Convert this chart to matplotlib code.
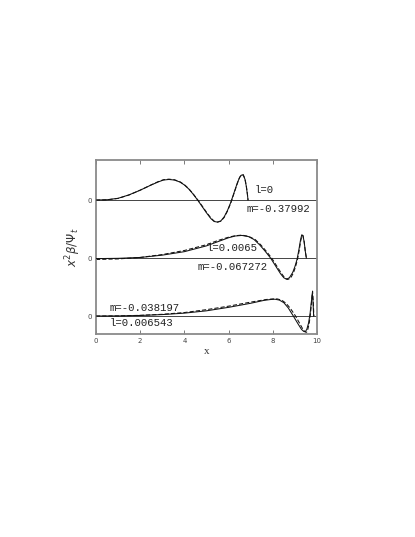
#!/usr/bin/env python3
"""Three stacked profiles x^2 beta / Psi_t versus x (solid and dashed)."""

import matplotlib
matplotlib.use("Agg")
import matplotlib.pyplot as plt

# ───────────── data ─────────────
# offsets of the three zero lines (upper, middle, lower)
OFFSETS = [0.0, -1.0, -2.0]

# upper curve: l=0, m=-0.37992
x1 = [0.0, 0.5, 1.0, 1.5, 2.0, 2.5, 2.8, 3.05, 3.3, 3.55, 3.8, 4.0, 4.2,
      4.4, 4.6, 4.8, 5.0, 5.2, 5.35, 5.5, 5.65, 5.8, 5.95, 6.1, 6.25, 6.4,
      6.5, 6.58, 6.66, 6.74, 6.8, 6.85, 6.88]
y1 = [0.0, 0.005, 0.03, 0.09, 0.17, 0.26, 0.31, 0.345, 0.355, 0.345, 0.31,
      0.26, 0.19, 0.10, 0.0, -0.11, -0.22, -0.32, -0.37, -0.38, -0.36,
      -0.29, -0.18, -0.04, 0.13, 0.30, 0.39, 0.43, 0.43, 0.36, 0.24, 0.10,
      0.0]
x1d = x1
y1d = [0.0, 0.004, 0.028, 0.088, 0.17, 0.262, 0.315, 0.35, 0.36, 0.35,
       0.315, 0.265, 0.195, 0.105, 0.005, -0.10, -0.21, -0.31, -0.365,
       -0.38, -0.365, -0.30, -0.19, -0.05, 0.12, 0.29, 0.39, 0.435, 0.44,
       0.37, 0.25, 0.11, 0.0]

# middle curve: l=0.0065, m=-0.067272
x2 = [0.0, 1.0, 2.0, 3.0, 4.0, 5.0, 5.5, 6.0, 6.3, 6.6, 6.9, 7.15, 7.4,
      7.65, 7.9, 8.15, 8.35, 8.5, 8.62, 8.75, 8.9, 9.0, 9.1, 9.18, 9.25,
      9.31, 9.36, 9.42, 9.47, 9.52]
y2 = [-0.01, -0.005, 0.01, 0.05, 0.11, 0.21, 0.28, 0.35, 0.38, 0.39, 0.37,
      0.32, 0.23, 0.12, 0.0, -0.15, -0.27, -0.34, -0.365, -0.34, -0.25,
      -0.15, -0.02, 0.14, 0.30, 0.40, 0.39, 0.28, 0.12, 0.0]
x2d = [0.0, 1.0, 2.0, 3.0, 4.0, 5.0, 5.5, 6.0, 6.3, 6.6, 6.9, 7.2, 7.45,
       7.7, 7.95, 8.2, 8.4, 8.55, 8.67, 8.8, 8.93, 9.03, 9.12, 9.2, 9.26,
       9.32, 9.37, 9.42, 9.47, 9.52]
y2d = [-0.025, -0.015, 0.01, 0.06, 0.13, 0.23, 0.30, 0.36, 0.385, 0.395,
       0.375, 0.32, 0.23, 0.12, 0.0, -0.15, -0.27, -0.345, -0.37, -0.35,
       -0.26, -0.15, -0.02, 0.14, 0.29, 0.39, 0.385, 0.28, 0.12, 0.0]

# lower curve: l=0.006543, m=-0.038197
x3 = [0.0, 1.0, 2.0, 3.0, 4.0, 5.0, 6.0, 7.0, 7.6, 7.9, 8.1, 8.3, 8.5,
      8.7, 8.93, 9.15, 9.3, 9.4, 9.47, 9.54, 9.62, 9.69, 9.75, 9.79, 9.82,
      9.85]
y3 = [0.0, 0.002, 0.01, 0.025, 0.05, 0.09, 0.15, 0.22, 0.27, 0.285, 0.29,
      0.275, 0.23, 0.14, 0.0, -0.14, -0.23, -0.265, -0.27, -0.23, -0.12,
      0.05, 0.26, 0.40, 0.25, 0.0]
x3d = [0.0, 1.0, 2.0, 3.0, 4.0, 5.0, 6.0, 7.0, 7.7, 8.0, 8.2, 8.4, 8.6,
       8.8, 9.03, 9.25, 9.38, 9.47, 9.53, 9.58, 9.65, 9.71, 9.76, 9.8,
       9.83, 9.86]
y3d = [0.0, 0.002, 0.012, 0.03, 0.06, 0.11, 0.17, 0.24, 0.285, 0.295,
       0.295, 0.275, 0.22, 0.13, 0.0, -0.15, -0.24, -0.275, -0.28, -0.24,
       -0.12, 0.05, 0.27, 0.43, 0.26, 0.0]

LABELS = [
    ("l=0", 7.2, 0.17), ("m=-0.37992", 6.8, -0.15),
    ("l=0.0065", 5.0, -0.83), ("m=-0.067272", 4.6, -1.16),
    ("m=-0.038197", 0.63, -1.86), ("l=0.006543", 0.63, -2.12),
]
X_TICKS = [0, 2, 4, 6, 8, 10]
# ────────────────────────────────────

fig = plt.figure(figsize=(4.15, 5.37), dpi=100)
ax = fig.add_axes([0.2313, 0.378, 0.5325, 0.324])

for off in OFFSETS:
    ax.axhline(off, color="#444444", lw=0.7, zorder=1)

curves = [(x1, y1, x1d, y1d), (x2, y2, x2d, y2d), (x3, y3, x3d, y3d)]
for off, (xs, ys, xd, yd) in zip(OFFSETS, curves):
    ax.plot(xs, [v + off for v in ys], color="#111111", lw=0.75, zorder=3)
    ax.plot(xd, [v + off for v in yd], color="#111111", lw=0.75,
            ls=(0, (4, 2)), zorder=2)

for txt, tx, ty in LABELS:
    ax.text(tx, ty, txt, fontsize=7.7, family="Liberation Mono",
            va="center", ha="left", color="#222222")

ax.set_xlim(0, 10)
ax.set_ylim(-2.31, 0.69)
ax.set_xticks(X_TICKS)
ax.set_yticks(OFFSETS)
ax.set_yticklabels(["0"] * 3)
ax.tick_params(direction="in", length=3, width=0.6, labelsize=5,
               top=True, colors="#666666", labelcolor="#444444", pad=3)
for sp in ax.spines.values():
    sp.set_color("#8a8a8a")
    sp.set_linewidth(1.3)

ax.set_xlabel("x", fontsize=8, family="Liberation Serif", labelpad=2,
              color="#333333")
ax.set_ylabel(r"$x^2\beta/\Psi_t$", fontsize=8.5, labelpad=3, color="#333333")

fig.savefig("out.png", dpi=100)
